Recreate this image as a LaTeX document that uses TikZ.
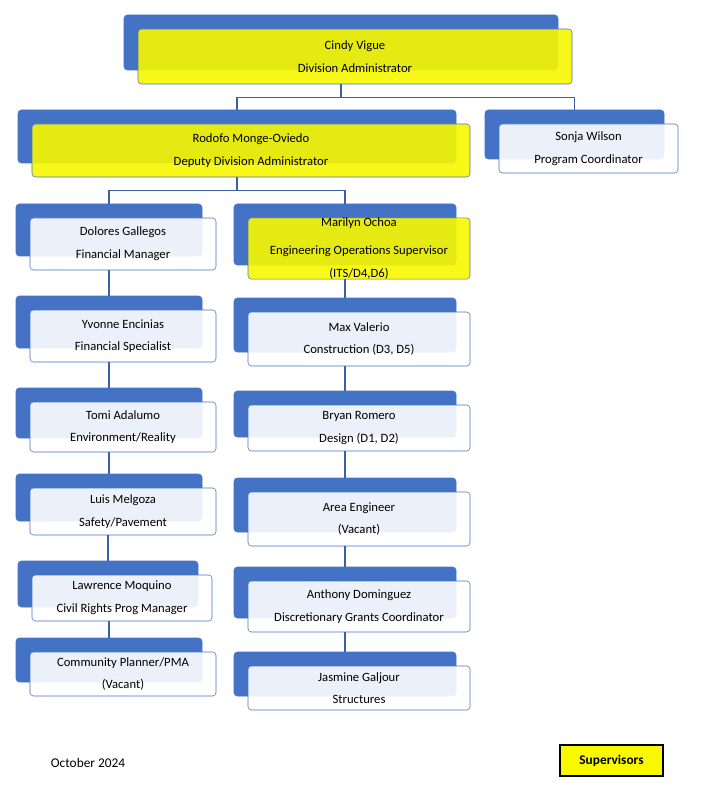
\documentclass[tikz,border=0pt]{standalone}
\usepackage{fontspec}
\setmainfont{Carlito}
\usetikzlibrary{positioning}
\definecolor{orgblue}{HTML}{4472C4}
\definecolor{orgyellow}{HTML}{F8F800}
\tikzset{
  back/.style={draw=orgblue,fill=orgblue,rounded corners=2.5pt,inner sep=0pt},
  person/.style={draw=orgblue,fill=white,fill opacity=0.9,text opacity=1,rounded corners=2.5pt,
    inner sep=0pt,align=center,font=\fontsize{9.5}{17}\selectfont},
  boss/.style={person,fill=orgyellow},
  link/.style={draw=orgblue!85!black,line width=0.8pt}
}
% name, cx, cy, width, height, style, text
\newcommand\orgbox[7]{%
  \node[back,minimum width=#4*0.75pt,minimum height=#5*0.75pt] (#1b) at (#2-14,#3-14) {};
  \node[#6,minimum width=#4*0.75pt,minimum height=#5*0.75pt] (#1) at (#2,#3) {#7};}
\begin{document}
\begin{tikzpicture}[x=0.75pt,y=-0.75pt]
\useasboundingbox (0,0) rectangle (701,791);

\orgbox{cindy}{355}{56.5}{434}{55}{boss}{Cindy Vigue\\Division Administrator}
\orgbox{rodofo}{251}{150.5}{438}{53}{boss}{Rodofo Monge-Oviedo\\Deputy Division Administrator}
\orgbox{sonja}{588.5}{148.5}{179}{49}{person}{Sonja Wilson\\Program Coordinator}

%left column
\orgbox{dolores}{123}{244}{186}{52}{person}{Dolores Gallegos\\Financial Manager}
\orgbox{yvonne}{123}{336}{186}{52}{person}{Yvonne Encinias\\Financial Specialist}
\orgbox{tomi}{123}{427}{186}{50}{person}{Tomi Adalumo\\Environment/Reality}
\orgbox{luis}{123}{511.5}{186}{47}{person}{Luis Melgoza\\Safety/Pavement}
\orgbox{lawrence}{122}{598}{180}{46}{person}{Lawrence Moquino\\Civil Rights Prog Manager}
\orgbox{community}{123}{674}{186}{44}{person}{Community Planner/PMA\\(Vacant)}

%right column
\orgbox{marilyn}{359}{248.5}{222}{61}{boss}{\fontsize{9.5}{15}\selectfont Marilyn Ochoa\\[4pt]Engineering Operations Supervisor\\(ITS/D4,D6)}
\orgbox{max}{359}{339}{222}{54}{person}{Max Valerio\\Construction (D3, D5)}
\orgbox{bryan}{359}{428}{222}{46}{person}{Bryan Romero\\Design (D1, D2)}
\orgbox{area}{359}{519}{222}{54}{person}{Area Engineer\\(Vacant)}
\orgbox{anthony}{359}{606.5}{222}{51}{person}{Anthony Dominguez\\Discretionary Grants Coordinator}
\orgbox{jasmine}{359}{688}{222}{44}{person}{Jasmine Galjour\\Structures}

%connectors
\draw[link] (cindyb.south |- cindy.south) -- ++(0,13) coordinate (cbar) -| (rodofob.north);
\draw[link] (cbar) -| (sonjab.north);
\draw[link] (rodofob.south |- rodofo.south) -- ++(0,13) coordinate (rbar) -| (doloresb.north);
\draw[link] (rbar) -| (marilynb.north);
\foreach \a/\b in {dolores/yvonne,yvonne/tomi,tomi/luis,luis/lawrence,lawrence/community,
                   marilyn/max,max/bryan,bryan/area,area/anthony,anthony/jasmine}
  \draw[link] (\b b.north |- \a.south) -- (\b b.north);

%footer
\node[font=\fontsize{10}{12}\selectfont] (date) at (88,763) {October 2024};
\node[draw=black,line width=0.9pt,fill=orgyellow,minimum width=103*0.75pt,minimum height=31*0.75pt,
  font=\fontsize{10}{12}\selectfont\bfseries] (legend) at (611.5,760.5) {Supervisors};
\end{tikzpicture}
\end{document}
